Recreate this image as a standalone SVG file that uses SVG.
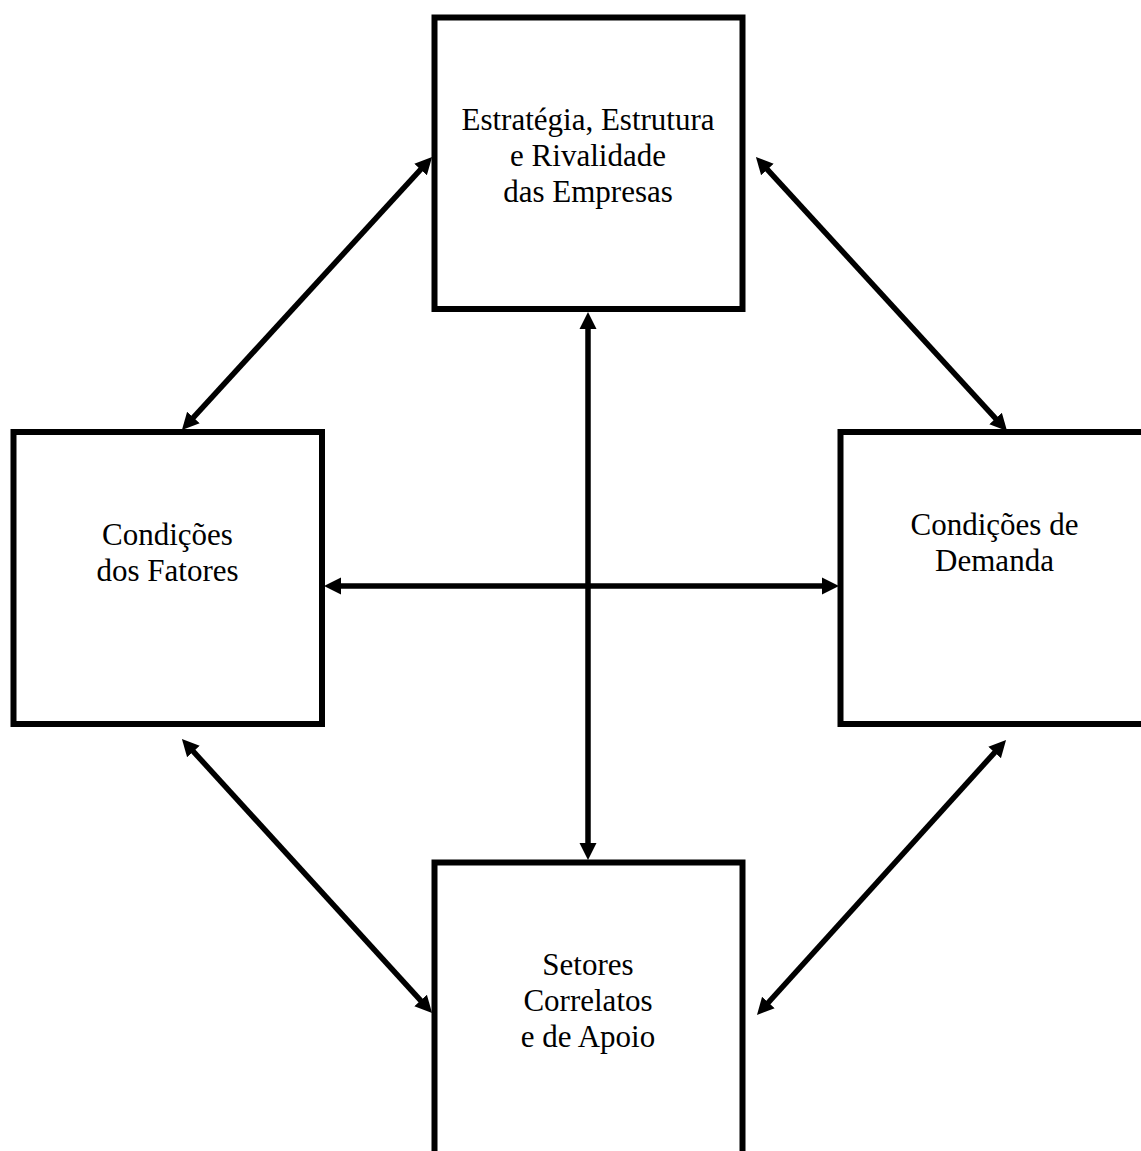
<svg xmlns="http://www.w3.org/2000/svg" width="1141" height="1151" viewBox="0 0 1141 1151">
  <style>
    .box { fill: #ffffff; stroke: #000000; stroke-width: 6; }
    .lbl { font-family: "Liberation Serif", "Times New Roman", serif; font-size: 31px; fill: #000000; text-anchor: middle; }
    .conn { stroke: #000000; stroke-width: 5.5; fill: none; marker-start: url(#arrow); marker-end: url(#arrow); }
  </style>
  <defs>
    <marker id="arrow" markerUnits="userSpaceOnUse" markerWidth="18" markerHeight="18" viewBox="0 0 18 18" refX="8" refY="9" orient="auto-start-reverse">
      <path d="M0,0.5 L17,9 L0,17.5 Z" fill="#000000"/>
    </marker>
  </defs>
  <rect x="0" y="0" width="1141" height="1151" fill="#ffffff"/>

  <g id="node-estrategia">
    <rect class="box" x="434.5" y="17.5" width="308" height="291.5"/>
    <text class="lbl" x="588" y="130">Estratégia, Estrutura</text>
    <text class="lbl" x="588" y="166">e Rivalidade</text>
    <text class="lbl" x="588" y="202">das Empresas</text>
  </g>

  <g id="node-fatores">
    <rect class="box" x="13.5" y="432" width="308.5" height="292"/>
    <text class="lbl" x="167.5" y="545">Condições</text>
    <text class="lbl" x="167.5" y="581">dos Fatores</text>
  </g>

  <g id="node-demanda">
    <rect class="box" x="840.5" y="432" width="308" height="292"/>
    <text class="lbl" x="994.5" y="535">Condições de</text>
    <text class="lbl" x="994.5" y="571">Demanda</text>
  </g>

  <g id="node-setores">
    <rect class="box" x="434.5" y="862.5" width="308" height="300"/>
    <text class="lbl" x="588" y="975">Setores</text>
    <text class="lbl" x="588" y="1011">Correlatos</text>
    <text class="lbl" x="588" y="1047">e de Apoio</text>
  </g>

  <g id="connectors">
    <line class="conn" x1="188" y1="423.4" x2="426" y2="163.6"/>
    <line class="conn" x1="762" y1="163.6" x2="1001" y2="424.4"/>
    <line class="conn" x1="188" y1="745.6" x2="426" y2="1006.4"/>
    <line class="conn" x1="1000" y1="746.6" x2="763" y2="1008.4"/>
    <line class="conn" x1="588" y1="321" x2="588" y2="851"/>
    <line class="conn" x1="333" y1="586" x2="830" y2="586"/>
  </g>
</svg>
